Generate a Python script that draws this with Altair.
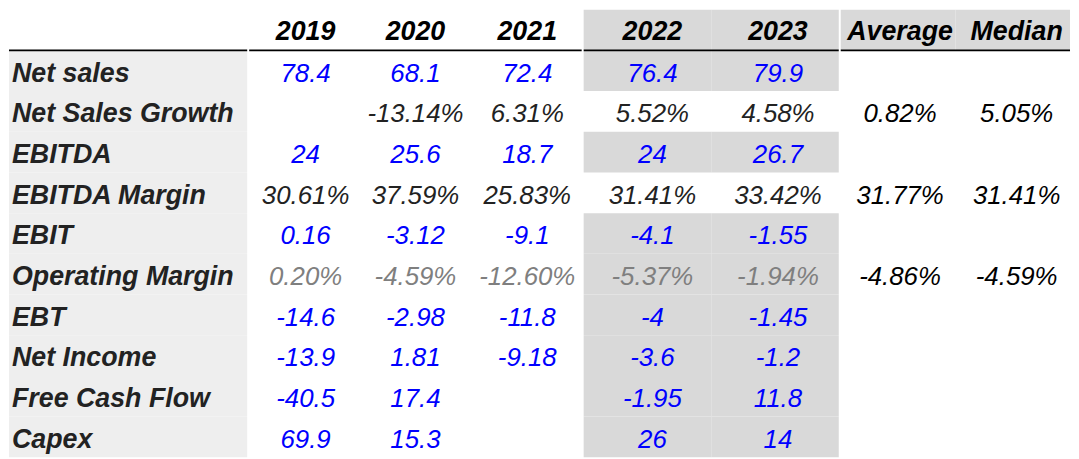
import altair as alt
import pandas as pd

# ---------------- data ----------------
row_labels = ["Net sales", "Net Sales Growth", "EBITDA", "EBITDA Margin", "EBIT",
              "Operating Margin", "EBT", "Net Income", "Free Cash Flow", "Capex"]
years_hist = ["2019", "2020", "2021"]
years_proj = ["2022", "2023"]
stat_cols = ["Average", "Median"]

net_sales = [78.4, 68.1, 72.4, 76.4, 79.9]
net_sales_growth = [None, -13.14, 6.31, 5.52, 4.58]
ebitda = [24, 25.6, 18.7, 24, 26.7]
ebitda_margin = [30.61, 37.59, 25.83, 31.41, 33.42]
ebit = [0.16, -3.12, -9.1, -4.1, -1.55]
operating_margin = [0.20, -4.59, -12.60, -5.37, -1.94]
ebt = [-14.6, -2.98, -11.8, -4, -1.45]
net_income = [-13.9, 1.81, -9.18, -3.6, -1.2]
free_cash_flow = [-40.5, 17.4, None, -1.95, 11.8]
capex = [69.9, 15.3, None, 26, 14]

growth_stats = [0.82, 5.05]
ebitda_margin_stats = [31.77, 31.41]
operating_margin_stats = [-4.86, -4.59]

# row kind: amount (blue), pct (dark), pct_muted (grey)
row_values = {
    "Net sales": (net_sales, "amount"),
    "Net Sales Growth": (net_sales_growth, "pct"),
    "EBITDA": (ebitda, "amount"),
    "EBITDA Margin": (ebitda_margin, "pct"),
    "EBIT": (ebit, "amount"),
    "Operating Margin": (operating_margin, "pct_muted"),
    "EBT": (ebt, "amount"),
    "Net Income": (net_income, "amount"),
    "Free Cash Flow": (free_cash_flow, "amount"),
    "Capex": (capex, "amount"),
}
row_stats = {
    "Net Sales Growth": growth_stats,
    "EBITDA Margin": ebitda_margin_stats,
    "Operating Margin": operating_margin_stats,
}
unshaded_proj_rows = ["Net Sales Growth", "EBITDA Margin"]

# ---------------- style ----------------
FONT = "Liberation Sans"
FS = 26
FS_BOLD = 27
BLUE = "#0000ff"
DARK = "#222222"
MUTED = "#7f7f7f"
LABEL_BG = "#eeeeee"
PROJ_BG = "#d9d9d9"
kind_color = {"amount": BLUE, "pct": DARK, "pct_muted": MUTED}
col_dx = {"2019": 1, "2020": 0, "2021": 1, "2022": 5, "2023": 3, "Average": 2, "Median": 4}

ROWS = ["header"] + row_labels
H = 451


def fmt(v, kind):
    if v is None:
        return ""
    if kind == "amount":
        return f"{v:.3g}"
    return f"{v:.2f}%"


all_years = years_hist + years_proj
cells = []
for r in row_labels:
    vals, kind = row_values[r]
    for y, v in zip(all_years, vals):
        if v is None:
            continue
        cells.append({"row": r, "col": y, "text": fmt(v, kind), "color": kind_color[kind]})
    if r in row_stats:
        for c, v in zip(stat_cols, row_stats[r]):
            cells.append({"row": r, "col": c, "text": fmt(v, "pct"), "color": "#000000"})
for c in all_years + stat_cols:
    cells.append({"row": "header", "col": c, "text": c, "color": "#000000"})
cells_df = pd.DataFrame(cells)

yscale = alt.Scale(domain=ROWS, paddingInner=0, paddingOuter=0)


def Y(**kw):
    return alt.Y("row:N", scale=yscale, axis=None, **kw)


def band(domain):
    return alt.Scale(domain=domain, paddingInner=0, paddingOuter=0)


line = alt.Chart(pd.DataFrame({"row": ["Net sales"]})).mark_rule(
    color="#000000", strokeWidth=2
).encode(y=Y(bandPosition=0))


def text_layers(cols):
    xscale = band(cols)
    layers = []
    for c in cols:
        df = cells_df[cells_df["col"] == c]
        hdr = df[df["row"] == "header"]
        body = df[df["row"] != "header"]
        enc = dict(
            x=alt.X("col:N", scale=xscale, axis=None),
            y=Y(),
            text="text:N",
            color=alt.Color("color:N", scale=None),
        )
        layers.append(alt.Chart(body).mark_text(
            font=FONT, fontSize=FS, fontStyle="italic", align="center",
            baseline="middle", dx=col_dx[c], dy=3
        ).encode(**enc))
        layers.append(alt.Chart(hdr).mark_text(
            font=FONT, fontSize=FS_BOLD, fontStyle="italic", fontWeight="bold",
            align="center", baseline="middle", dx=col_dx[c], dy=2
        ).encode(**enc))
    return layers


# ---- label column ----
label_df = pd.DataFrame({"row": row_labels, "col": ["label"] * len(row_labels)})
label_bg = alt.Chart(label_df).mark_rect(fill=LABEL_BG).encode(
    x=alt.X("col:N", scale=band(["label"]), axis=None), y=Y()
)
label_text = alt.Chart(label_df).mark_text(
    font=FONT, fontSize=FS_BOLD, fontStyle="italic", fontWeight="bold",
    align="left", baseline="middle", dx=3, dy=3, color=DARK
).encode(
    x=alt.X("col:N", scale=alt.Scale(type="point", domain=["label", "end"], padding=0), axis=None),
    y=Y(),
    text="row:N",
)
v_label = alt.layer(label_bg, line, label_text).resolve_scale(x="independent").properties(
    width=240, height=H
)

# ---- 2019-2021 ----
v_hist = alt.layer(line, *text_layers(years_hist)).properties(width=335, height=H)

# ---- 2022-2023 ----
shade = [{"row": r, "col": c} for r in ["header"] + row_labels for c in years_proj
         if r not in unshaded_proj_rows]
proj_bg = alt.Chart(pd.DataFrame(shade)).mark_rect(fill=PROJ_BG).encode(
    x=alt.X("col:N", scale=band(years_proj), axis=None), y=Y()
)
v_proj = alt.layer(proj_bg, line, *text_layers(years_proj)).properties(width=257, height=H)

# ---- Average / Median ----
stat_bg = alt.Chart(pd.DataFrame({"row": ["header"] * 2, "col": stat_cols})).mark_rect(
    fill=PROJ_BG
).encode(x=alt.X("col:N", scale=band(stat_cols), axis=None), y=Y())
v_stat = alt.layer(stat_bg, line, *text_layers(stat_cols)).properties(width=231, height=H)

chart = alt.hconcat(v_label, v_hist, v_proj, v_stat, spacing=0).properties(
    padding=0
).configure_view(stroke=None).configure_concat(spacing=0)

chart.save("out.html", embed_options={"renderer": "svg", "actions": False})
